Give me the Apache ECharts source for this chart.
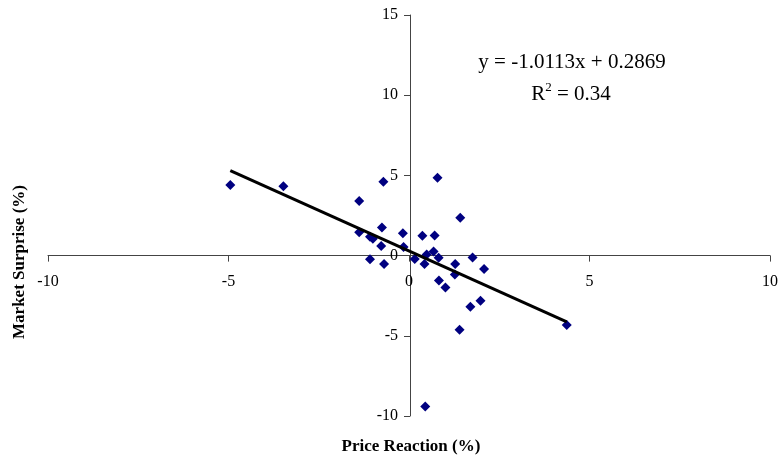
<!DOCTYPE html>
<html>
<head>
<meta charset="utf-8">
<script src="https://cdn.jsdelivr.net/npm/echarts@6/dist/echarts.min.js"></script>
<style>
  html, body { margin: 0; padding: 0; background: #fff; }
  #chart { width: 781px; height: 461px; }
</style>
</head>
<body>
<div id="chart"></div>
<script>
// price reaction (%) vs market surprise (%)
const priceReaction = [
  -4.95, -3.48, -1.38, -0.71, 0.79, 1.42, -1.38, -1.08, -1.00, -0.75,
  -0.17, 0.37, 0.71, -0.77, -0.15, -1.08, -0.69, 0.16, 0.43, 0.49,
  0.68, 0.82, 1.28, 1.76, 2.08, 1.27, 0.83, 1.01, 1.70, 1.98,
  1.40, 4.37, 0.45
];
const marketSurprise = [
  4.40, 4.33, 3.40, 4.60, 4.85, 2.36, 1.45, 1.18, 1.05, 1.75,
  1.39, 1.23, 1.25, 0.60, 0.54, -0.22, -0.52, -0.21, -0.52, 0.07,
  0.25, -0.14, -0.53, -0.12, -0.83, -1.18, -1.55, -1.99, -3.19, -2.82,
  -4.63, -4.32, -9.40
];
const xTicks = [-10, -5, 0, 5, 10];
const yTicks = [-10, -5, 0, 5, 10, 15];

// linear trend from the chart's equation
const slope = -1.0113;
const intercept = 0.2869;
const rSquared = 0.34;

const points = priceReaction.map((x, i) => [x, marketSurprise[i]]);
const xMinData = Math.min(...priceReaction);
const xMaxData = Math.max(...priceReaction);
const trend = [
  [xMinData, slope * xMinData + intercept],
  [xMaxData, slope * xMaxData + intercept]
];

const font = '"Liberation Serif", "Times New Roman", serif';
const axisColor = '#444';

// grid box, axes are shifted so they cross at 0 (labels included)
const W = 781, H = 461;
const grid = { left: 48, right: 9, top: 15, bottom: 45 };
const gridW = W - grid.left - grid.right;
const gridH = H - grid.top - grid.bottom;
const xMin = xTicks[0], xMax = xTicks[xTicks.length - 1];
const yMin = yTicks[0], yMax = yTicks[yTicks.length - 1];
const xAxisOffset = -gridH * (0 - yMin) / (yMax - yMin);
const yAxisOffset = -gridW * (0 - xMin) / (xMax - xMin);

const chart = echarts.init(document.getElementById('chart'));

chart.setOption({
  backgroundColor: '#fff',
  animation: false,
  grid: grid,
  xAxis: {
    type: 'value',
    position: 'bottom',
    offset: xAxisOffset,
    min: xMin,
    max: xMax,
    interval: 5,
    splitLine: { show: false },
    axisLine: { onZero: false, lineStyle: { color: axisColor, width: 1 } },
    axisTick: { show: true, inside: false, length: 6, lineStyle: { color: axisColor } },
    axisLabel: { margin: 18, fontFamily: font, fontSize: 16, color: '#000' }
  },
  yAxis: {
    type: 'value',
    position: 'left',
    offset: yAxisOffset,
    min: yMin,
    max: yMax,
    interval: 5,
    splitLine: { show: false },
    axisLine: { onZero: false, lineStyle: { color: axisColor, width: 1 } },
    axisTick: { show: true, inside: false, length: 6, lineStyle: { color: axisColor } },
    axisLabel: { margin: 12, fontFamily: font, fontSize: 16, color: '#000' }
  },
  series: [
    {
      type: 'scatter',
      data: points,
      symbol: 'diamond',
      symbolSize: 10,
      itemStyle: { color: '#000080', opacity: 1 },
      z: 2
    },
    {
      type: 'line',
      data: trend,
      showSymbol: false,
      lineStyle: { color: '#000', width: 3 },
      z: 3
    }
  ],
  graphic: [
    {
      type: 'text',
      x: 572, y: 62,
      style: {
        text: 'y = ' + slope.toFixed(4) + 'x + ' + intercept.toFixed(4),
        font: '21px ' + font, fill: '#000',
        align: 'center', verticalAlign: 'middle'
      }
    },
    {
      type: 'text',
      x: 571, y: 93,
      style: {
        text: '{a|R}{s|2}{a| = ' + rSquared.toFixed(2) + '}',
        align: 'center', verticalAlign: 'middle',
        rich: {
          a: { fontFamily: font, fontSize: 21, color: '#000', lineHeight: 24, verticalAlign: 'bottom' },
          s: { fontFamily: font, fontSize: 13, color: '#000', lineHeight: 24, verticalAlign: 'top' }
        }
      }
    },
    {
      type: 'text',
      x: 411, y: 447,
      style: {
        text: 'Price Reaction (%)',
        font: 'bold 17px ' + font, fill: '#000',
        align: 'center', verticalAlign: 'middle'
      }
    },
    {
      type: 'text',
      x: 20, y: 262,
      rotation: Math.PI / 2,
      style: {
        text: 'Market Surprise (%)',
        font: 'bold 17px ' + font, fill: '#000',
        align: 'center', verticalAlign: 'middle'
      }
    }
  ]
});
</script>
</body>
</html>
